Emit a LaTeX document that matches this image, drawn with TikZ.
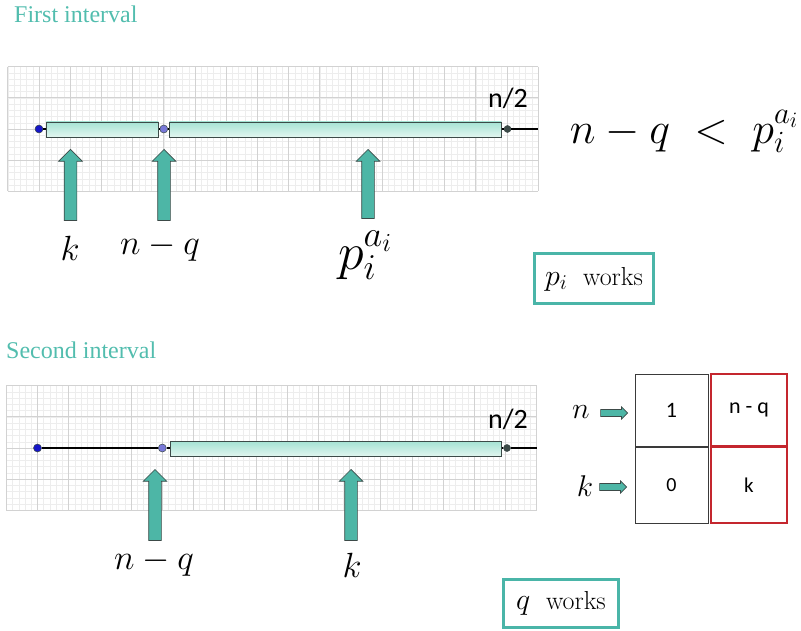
\documentclass[tikz,border=0pt]{standalone}
\usepackage{fix-cm}
\usepackage{amsmath}
\usepackage{fontspec}
\newfontfamily\titlefont{Liberation Serif}
\newfontfamily\calfont{Carlito}
\usepackage{tikz}
\usetikzlibrary{shapes.arrows,positioning,calc}
\definecolor{tealtext}{HTML}{52BDAE}
\definecolor{tealfill}{HTML}{4DB6A6}
\definecolor{tealbox}{HTML}{4AB5A8}
\definecolor{arrowedge}{HTML}{3C4A48}
\definecolor{bartop}{HTML}{A6E3D4}
\definecolor{barbot}{HTML}{E2F6F0}
\definecolor{gridminor}{HTML}{EDEDED}
\definecolor{gridmajor}{HTML}{D2D2D2}
\definecolor{dotblue}{HTML}{1515C8}
\definecolor{dotlilac}{HTML}{7878D8}
\definecolor{celledge}{HTML}{3A3A3A}
\definecolor{cellred}{HTML}{C4262E}
\newcommand{\boxmath}[1]{{\fontsize{30}{32}\selectfont$#1$}}

\begin{document}
\begin{tikzpicture}[x=1pt, y=-1pt,
  title/.style={font=\titlefont\fontsize{24}{26}\selectfont, text=tealtext, anchor=base west, inner sep=0},
  bar/.style={draw=arrowedge, line width=0.8pt, top color=bartop, bottom color=barbot, minimum height=15pt, inner sep=0, anchor=west},
  dot/.style={circle, draw=arrowedge, line width=0.5pt, inner sep=0, minimum size=8pt},
  uparrow/.style={single arrow, draw=arrowedge, fill=tealfill, line width=0.7pt, rotate=90, inner sep=6pt, single arrow head extend=5.5pt, anchor=tip},
  rarrow/.style={single arrow, draw=arrowedge, fill=tealfill, line width=0.6pt, inner sep=3.2pt, single arrow head extend=2.6pt, minimum height=27pt, anchor=tip},
  half/.style={font=\calfont\fontsize{28}{30}\selectfont, inner sep=0},
  biglabel/.style={font=\fontsize{35}{38}\selectfont, inner sep=0},
  worksbox/.style={draw=tealbox, line width=3pt, inner sep=0, font=\fontsize{26}{28}\selectfont},
  cell/.style={draw=celledge, line width=1pt, inner sep=0, font=\calfont\fontsize{22}{24}\selectfont},
  redcell/.style={cell, draw=cellred, line width=1.4pt}]
  \useasboundingbox (0,0) rectangle (801,631);

  % grid paper behind both number lines
  \foreach \gx/\gy in {7.8/66.6, 6.3/385.6} {
    \foreach \i in {0,...,85}
      \draw[gridminor, line width=0.5pt] ({\gx+\i*6.24},\gy) -- ++(0,124.8);
    \foreach \j in {0,...,20}
      \draw[gridminor, line width=0.5pt] (\gx,{\gy+\j*6.24}) -- ++(530.4,0);
    \foreach \i in {0,...,17}
      \draw[gridmajor, line width=0.8pt] ({\gx+\i*31.2},\gy) -- ++(0,124.8);
    \foreach \j in {0,...,4}
      \draw[gridmajor, line width=0.8pt] (\gx,{\gy+\j*31.2}) -- ++(530.4,0);
  }

  % first interval
  \node[title] (title1) at (14,23) {First interval};
  \coordinate (end1) at (538.2,129);
  \node[dot, fill=dotblue] (lo1) at (39,129) {};
  \node[dot, fill=dotlilac] (mid1) at (163.8,129) {};
  \node[dot, fill=arrowedge, minimum size=7pt] (hi1) at (507.5,129) {};
  \draw[line width=1.1pt] (lo1) -- (mid1) -- (hi1) -- (end1);
  \node[bar, minimum width=112pt] (barA) at (46,129.5) {};
  \node[bar, minimum width=332pt] (barB) at (169,129.5) {};
  \node[half] (half1) at (508,98) {n/2};

  \node[uparrow, minimum height=71pt] (upK1) at (70.5,149) {};
  \node[uparrow, minimum height=71pt] (upNQ1) at (164,149) {};
  \node[uparrow, minimum height=69pt] (upP1) at (368,149) {};
  \node[biglabel] (k1) at (70,248) {$k$};
  \node[biglabel] (nq1) at (160,248) {$n-q$};
  \node[font=\fontsize{52}{56}\selectfont, inner sep=0] (p1) at (365,255) {$p_i^{a_i}$};

  \node[font=\fontsize{44}{48}\selectfont, inner sep=0] (cond) at (684,131) {$n-q\;<\;p_i^{a_i}$};
  \node[worksbox, minimum width=119pt, minimum height=50pt] (works1) at (594,279) {\boxmath{p_i}~~works};

  % second interval
  \node[title] (title2) at (6,358) {Second interval};
  \coordinate (end2) at (536.7,448);
  \node[dot, fill=dotblue] (lo2) at (37.5,448) {};
  \node[dot, fill=dotlilac] (mid2) at (162.3,448) {};
  \node[dot, fill=arrowedge, minimum size=7pt] (hi2) at (507,448) {};
  \draw[line width=1.1pt] (lo2) -- (mid2) -- (hi2) -- (end2);
  \node[bar, minimum width=331pt] (barC) at (170,449) {};
  \node[half] (half2) at (508,419) {n/2};

  \node[uparrow, minimum height=71pt] (upNQ2) at (155,469) {};
  \node[uparrow, minimum height=71pt] (upK2) at (351,469) {};
  \node[biglabel] (nq2) at (154,563) {$n-q$};
  \node[biglabel] (k2) at (352,565) {$k$};

  \node[worksbox, minimum width=115pt, minimum height=48pt] (works2) at (561,603.5) {\boxmath{q}~~works};

  % registers
  \node[cell, minimum width=73pt, minimum height=72pt] (c11) at (671.5,410) {1};
  \node[redcell, minimum width=76pt, minimum height=72pt] (c12) at (749,410) {n - q};
  \node[cell, minimum width=73pt, minimum height=76pt, font=\calfont\fontsize{20}{22}\selectfont] (c21) at (671.5,485) {0};
  \node[redcell, minimum width=76pt, minimum height=76pt, font=\calfont\fontsize{21}{23}\selectfont] (c22) at (749,485) {k};
  \node[rarrow] (toN) at (628,413) {};
  \node[rarrow] (toK) at (627,487) {};
  \node[font=\fontsize{30}{32}\selectfont, inner sep=0] (regN) at (581,412) {$n$};
  \node[font=\fontsize{30}{32}\selectfont, inner sep=0] (regK) at (585,486) {$k$};
\end{tikzpicture}
\end{document}
